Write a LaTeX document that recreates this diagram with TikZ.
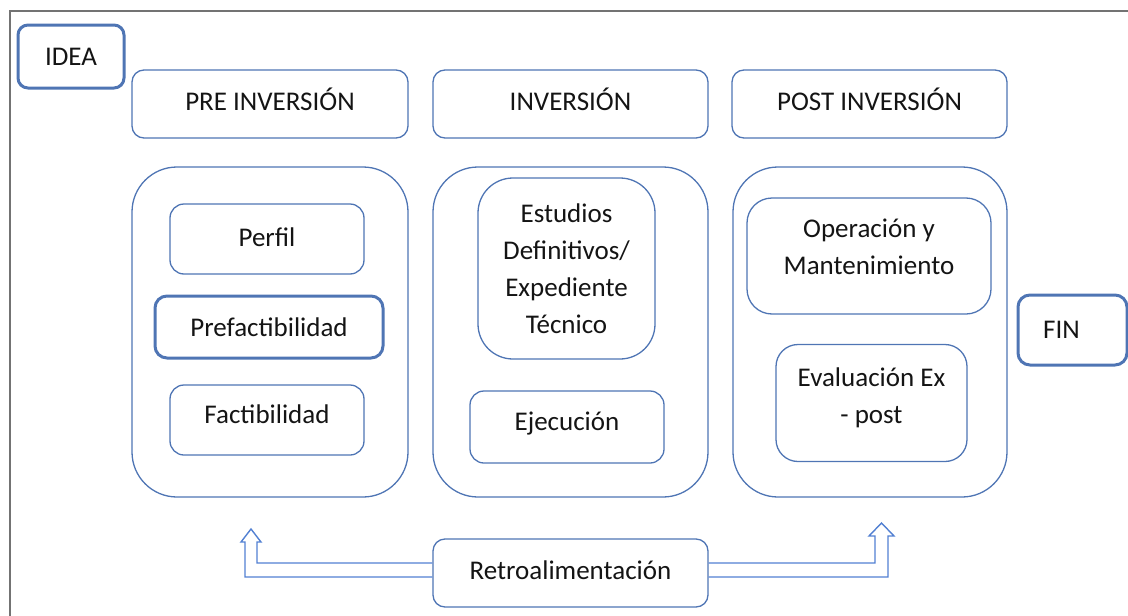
\documentclass[tikz,border=0pt]{standalone}
\usepackage{fontspec}
\setmainfont{Carlito}
\usetikzlibrary{calc}
\newcommand{\dropd}[1]{\rule[-#1pt]{0pt}{0pt}}
\begin{document}
\begin{tikzpicture}[x=1pt,y=-1pt,
  bx/.style={draw=boxblue,line width=1.3pt,rectangle,align=center,inner sep=0pt,
    font=\fontsize{27}{37}\selectfont,text=black!92},
  thk/.style={line width=3pt},
  arr/.style={draw=arrblue,line width=1.4pt,line join=miter}]
\definecolor{boxblue}{RGB}{79,117,180}
\definecolor{arrblue}{RGB}{82,128,210}
\useasboundingbox (0,0) rectangle (1128,616);
% frame
\draw[black!55,line width=2.8pt] (10,616) -- (10,11) -- (1130,11);
% top left / right
\node[bx,thk,minimum width=106,minimum height=63,rounded corners=10] (idea) at (71,56.5) {IDEA};
\node[bx,thk,minimum width=109,minimum height=70,rounded corners=12] (fin) at (1072.5,330) {FIN\hspace{22pt}};
% headers
\node[bx,minimum width=276,minimum height=68,rounded corners=12] (hpre) at (270,104) {PRE INVERSIÓN\dropd{10}};
\node[bx,minimum width=275,minimum height=68,rounded corners=12] (hinv) at (570.5,104) {INVERSIÓN\dropd{10}};
\node[bx,minimum width=275,minimum height=68,rounded corners=12] (hpost) at (869.5,104) {POST INVERSIÓN\dropd{10}};
% containers
\node[bx,minimum width=276,minimum height=330,rounded corners=45] (cpre) at (270,332) {};
\node[bx,minimum width=275,minimum height=330,rounded corners=45] (cinv) at (570.5,332) {};
\node[bx,minimum width=274,minimum height=330,rounded corners=45] (cpost) at (870,332) {};
% pre inversion
\node[bx,minimum width=194,minimum height=70,rounded corners=14] (perfil) at (267,239) {Perfil\dropd{4}};
\node[bx,thk,minimum width=228,minimum height=62,rounded corners=12] (prefact) at (269,327) {Prefactibilidad};
\node[bx,minimum width=194,minimum height=70,rounded corners=14] (fact) at (267,420) {Factibilidad\dropd{11}};
% inversion
\node[bx,minimum width=177,minimum height=181,rounded corners=35] (estud) at (566.5,268.5) {Estudios\\Definitivos/\\Expediente\\Técnico};
\node[bx,minimum width=194,minimum height=72,rounded corners=14] (ejec) at (567,427) {Ejecución\dropd{11}};
% post inversion
\node[bx,minimum width=244,minimum height=116,rounded corners=25] (oper) at (869,256) {Operación y\\Mantenimiento\dropd{18}};
\node[bx,minimum width=191,minimum height=117,rounded corners=22] (evalu) at (871.5,403) {Evaluación Ex\\- post\dropd{14}};
% feedback
\node[bx,minimum width=275,minimum height=68,rounded corners=12] (retro) at (570.5,573) {Retroalimentación\dropd{6}};
\draw[arr] ($(retro.west)+(0,-10)$) -- (257,563) -- (257,542) -- (261,542) -- (251,529) -- (241,542) -- (245,542) -- (245,577) -- ($(retro.west)+(0,4)$);
\draw[arr] ($(retro.east)+(0,-10)$) -- (875,563) -- (875,536) -- (869,536) -- (881.5,523) -- (894,536) -- (888,536) -- (888,577) -- ($(retro.east)+(0,4)$);
\end{tikzpicture}
\end{document}
